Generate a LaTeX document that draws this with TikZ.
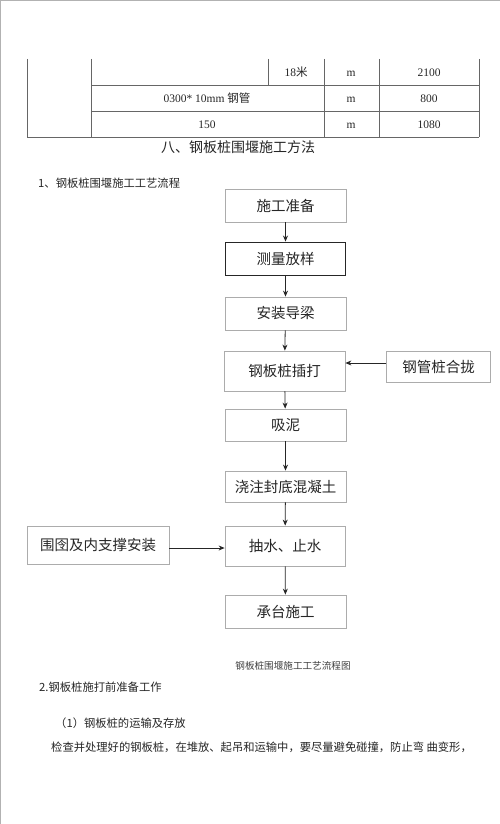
\documentclass[tikz,border=0pt]{standalone}
\usepackage{fontspec}
\setmainfont{Liberation Serif}
\newfontfamily\cjk{Noto Sans CJK SC}
\usetikzlibrary{arrows.meta,positioning}
\tikzset{
  frameline/.style={draw=gray!60,line width=0.8pt},
  tabline/.style={draw=black!60,line width=0.7pt},
  stepbox/.style={draw=gray!65,line width=0.8pt,inner sep=0pt,font=\cjk\fontsize{14.5}{16}\selectfont,text=black!85},
  darkbox/.style={stepbox,draw=black!85,line width=0.9pt},
  arr/.style={draw=black!85,line width=0.8pt,-{Stealth[length=6pt,width=5pt]}},
  celltext/.style={inner sep=0pt,anchor=base,font=\fontsize{11.5}{13}\selectfont,text=black!85},
  bodytext/.style={inner sep=0pt,anchor=west,font=\cjk\fontsize{11.3}{13}\selectfont,text=black!85}
}
\begin{document}
\begin{tikzpicture}[x=1pt,y=-1pt]
\useasboundingbox (0,0) rectangle (500,824);
\fill[white] (0,0) rectangle (500,824);
% page frame edges
\draw[frameline] (0.5,824) -- (0.5,0.5) -- (500,0.5);
% table
\draw[tabline] (27,59) -- (27,137);
\draw[tabline] (91,59) -- (91,137);
\draw[tabline] (268,59) -- (268,85);
\draw[tabline] (324,59) -- (324,137);
\draw[tabline] (379,59) -- (379,137);
\draw[tabline] (479,59) -- (479,137);
\draw[tabline] (91,85) -- (479,85);
\draw[tabline] (91,111) -- (479,111);
\draw[tabline] (27,137) -- (479,137);
\node[celltext] (c11) at (296,76.5) {18{\cjk 米}};
\node[celltext] (c12) at (351,76.5) {m};
\node[celltext] (c13) at (429,76.5) {2100};
\node[celltext] (c21) at (207,102.5) {0300* 10mm {\cjk 钢管}};
\node[celltext] (c22) at (351,102.5) {m};
\node[celltext] (c23) at (429,102.5) {800};
\node[celltext] (c31) at (207,128.5) {150};
\node[celltext] (c32) at (351,128.5) {m};
\node[celltext] (c33) at (429,128.5) {1080};
% headings
\node[inner sep=0pt,font=\cjk\fontsize{14}{16}\selectfont,text=black!85] (title) at (238,147) {八、钢板桩围堰施工方法};
\node[bodytext] (h1) at (38,183) {1、钢板桩围堰施工工艺流程};
% flow boxes
\node[stepbox,minimum width=121pt,minimum height=33pt] (b1) at (285.5,205.5) {施工准备};
\node[darkbox,minimum width=120pt,minimum height=33pt] (b2) at (285.5,258.5) {测量放样};
\node[stepbox,minimum width=121pt,minimum height=33pt] (b3) at (285.5,313.5) {安装导梁};
\node[stepbox,minimum width=121pt,minimum height=40pt] (b4) at (284.5,371) {钢板桩插打};
\node[stepbox,minimum width=104pt,minimum height=31pt] (hg) at (438.5,367) {钢管桩合拢};
\node[stepbox,minimum width=121pt,minimum height=32pt] (b5) at (285.5,425) {吸泥};
\node[stepbox,minimum width=121pt,minimum height=31pt] (b6) at (285.5,486.5) {浇注封底混凝土};
\node[stepbox,minimum width=120pt,minimum height=40pt] (b7) at (285,546) {抽水、止水};
\node[stepbox,minimum width=142pt,minimum height=38pt] (wz) at (98,545) {围囹及内支撑安装};
\node[stepbox,minimum width=121pt,minimum height=33pt] (b8) at (285.5,611.5) {承台施工};
% connectors
\draw[arr] (b1) -- (b2);
\draw[arr] (b2) -- (b3);
\draw[arr] (b3) -- (b4);
\draw[arr] (b4) -- (b5);
\draw[arr] (b5) -- (b6);
\draw[arr] (b6) -- (b7);
\draw[arr] (b7) -- (b8);
\draw[arr] ([yshift=4pt]hg.west) -- ([yshift=4pt]hg.west -| b4.east);
\draw[arr] ([yshift=-3pt]wz.east) -- ([yshift=-3pt]wz.east -| b7.west);
% caption and text
\node[inner sep=0pt,font=\cjk\fontsize{9.6}{11}\selectfont,text=black!75] (cap) at (293,666) {钢板桩围堰施工工艺流程图};
\node[bodytext] (h2) at (39,687) {2.钢板桩施打前准备工作};
\node[bodytext] (h3) at (55,723) {（1）钢板桩的运输及存放};
\node[bodytext] (p1) at (51,747) {检查并处理好的钢板桩，在堆放、起吊和运输中，要尽量避免碰撞，防止弯\ 曲变形，};
\end{tikzpicture}
\end{document}
